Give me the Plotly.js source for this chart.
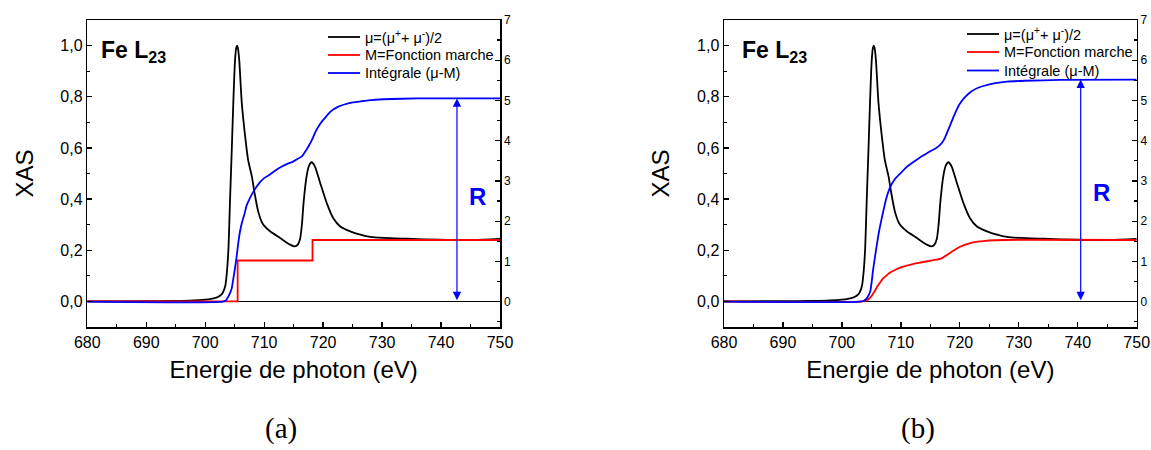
<!DOCTYPE html>
<html>
<head>
<meta charset="utf-8">
<script src="https://cdn.plot.ly/plotly-3.0.1.min.js"></script>
<style>html,body{margin:0;padding:0;background:#fff;}#chart{width:1151px;height:450px;}</style>
</head>
<body>
<div id="chart"></div>
<script>
// ---- data ----
// mu = (mu+ + mu-)/2, same spectrum in both panels
var muE = [680, 690, 695, 698, 700, 701, 702, 702.5, 703, 703.4, 703.7, 703.95, 704.2, 704.5, 704.77, 705.05, 705.25, 705.4, 705.55, 705.78, 706.19, 706.75, 707.3, 707.9, 708.4, 709, 709.6, 710.1, 711, 712.7, 714.4, 715.2, 715.7, 716.1, 716.4, 716.7, 717.2, 717.6, 718.06, 718.6, 719.5, 720.6, 721.7, 722.9, 724.6, 726.3, 728, 730.2, 734.2, 739.8, 745.5, 750];
var muXAS = [0, 0.001, 0.002, 0.004, 0.007, 0.01, 0.016, 0.022, 0.035, 0.06, 0.12, 0.21, 0.39, 0.59, 0.78, 0.94, 0.99, 1.0, 0.99, 0.94, 0.78, 0.65, 0.55, 0.49, 0.42, 0.35, 0.31, 0.293, 0.274, 0.248, 0.222, 0.215, 0.222, 0.245, 0.30, 0.39, 0.49, 0.53, 0.544, 0.528, 0.463, 0.385, 0.326, 0.293, 0.274, 0.261, 0.252, 0.248, 0.245, 0.241, 0.240, 0.244];

// (a) step function M
var stepE = [680, 705.5, 718.2, 750];
var stepM = [0, 0.16, 0.24, 0.24];
// (a) integral (mu - M), right axis
var intE_a = [680, 703, 703.5, 703.9, 704.2, 704.5, 704.8, 705.05, 705.4, 705.6, 705.85, 706.2, 706.7, 707, 707.5, 708.2, 709.3, 710, 711, 712.1, 713, 714, 714.9, 715.7, 716.4, 717.2, 717.6, 718.1, 718.8, 719.6, 720.5, 721.3, 722.5, 723.6, 725, 726.4, 728, 730.2, 736, 750];
var int_a = [0, 0, 0.03, 0.12, 0.21, 0.33, 0.6, 0.83, 1.2, 1.45, 1.7, 1.95, 2.2, 2.38, 2.55, 2.74, 2.97, 3.07, 3.16, 3.28, 3.36, 3.43, 3.48, 3.55, 3.61, 3.78, 3.88, 4.02, 4.25, 4.44, 4.6, 4.73, 4.84, 4.9, 4.95, 4.98, 5.01, 5.03, 5.05, 5.05];

// (b) smooth step function M
var mE_b = [680, 703.5, 704.5, 705, 705.5, 706, 706.5, 707, 707.5, 708, 709, 710, 711, 712, 713, 714, 715, 716, 716.8, 717.5, 718.5, 719.5, 720.5, 721.5, 722.5, 724, 726, 730, 750];
var m_b = [0, 0, 0.008, 0.02, 0.038, 0.058, 0.075, 0.09, 0.10, 0.11, 0.123, 0.133, 0.14, 0.146, 0.151, 0.155, 0.159, 0.163, 0.167, 0.177, 0.192, 0.207, 0.218, 0.226, 0.232, 0.236, 0.239, 0.241, 0.240];
// (b) integral (mu - M), right axis
var intE_b = [680, 703, 703.8, 704.3, 704.8, 705.3, 705.8, 706.3, 706.8, 707.5, 708.2, 709, 710, 711, 712, 713, 714, 715, 716, 716.7, 717.3, 717.8, 718.4, 719, 720, 721, 722, 723, 724, 726, 728, 731, 737, 750];
var int_b = [0, 0, 0.03, 0.1, 0.25, 0.8, 1.3, 1.75, 2.1, 2.55, 2.85, 3.05, 3.2, 3.35, 3.46, 3.56, 3.65, 3.74, 3.82, 3.9, 4.02, 4.19, 4.4, 4.62, 4.92, 5.1, 5.23, 5.31, 5.36, 5.43, 5.47, 5.49, 5.51, 5.52];

var names = ['\u03bc=(\u03bc<sup>+</sup>+ \u03bc<sup>-</sup>)/2', 'M=Fonction marche', 'Int\u00e9grale (\u03bc-M)'];
var captions = ['(a)', '(b)'];
var xTitle = 'Energie de photon (eV)';
var yTitle = 'XAS';
var panelLabel = '<b>Fe L<sub>23</sub></b>';

// ---- figure ----
var FONT = 'Liberation Sans, Arial, sans-serif';
var BLUE = '#0000ff', RED = '#ff0000', BLACK = '#000000';
var COLORS = [BLACK, RED, BLUE];

function mk(x, y, name, color, xa, ya, shape) {
  return {x: x, y: y, name: name, type: 'scatter', mode: 'lines',
    line: {color: color, width: 1.8, shape: shape || 'spline', smoothing: 0.6},
    xaxis: xa, yaxis: ya, showlegend: false, hoverinfo: 'skip'};
}

var data = [
  mk(muE, muXAS, names[0], BLACK, 'x', 'y'),
  mk(stepE, stepM, names[1], RED, 'x', 'y', 'hv'),
  mk(intE_a, int_a, names[2], BLUE, 'x', 'y2'),
  mk(muE, muXAS, names[0], BLACK, 'x2', 'y3'),
  mk(mE_b, m_b, names[1], RED, 'x2', 'y3'),
  mk(intE_b, int_b, names[2], BLUE, 'x2', 'y4')
];

var W = 1151, H = 450;
var domA = [87.3 / W, 500 / W], domB = [724 / W, 1136.7 / W];
var domY = [(H - 327) / H, (H - 20) / H];

function xAx(dom, yId) {
  return {domain: dom, range: [680, 750], anchor: yId, dtick: 10, tick0: 680,
    ticks: 'inside', ticklen: 5, tickwidth: 1.3, tickcolor: BLACK,
    minor: {dtick: 5, ticks: 'inside', ticklen: 3, tickwidth: 1.3, tickcolor: BLACK},
    showline: true, mirror: true, linewidth: 1.5, linecolor: BLACK,
    showgrid: false, zeroline: false,
    tickfont: {family: FONT, size: 16, color: BLACK},
    title: {text: xTitle, font: {family: FONT, size: 24, color: BLACK}, standoff: 11}};
}
function yAx(xId) {
  return {domain: domY, range: [-0.1, 1.1], anchor: xId, dtick: 0.2, tick0: 0, tickformat: '.1f',
    ticks: 'inside', ticklen: 5, tickwidth: 1.3, tickcolor: BLACK,
    minor: {dtick: 0.1, ticks: 'inside', ticklen: 3, tickwidth: 1.3, tickcolor: BLACK},
    showline: true, linewidth: 1.5, linecolor: BLACK,
    showgrid: false, zeroline: true, zerolinecolor: BLACK, zerolinewidth: 1.5,
    tickfont: {family: FONT, size: 16, color: BLACK},
    title: {text: yTitle, font: {family: FONT, size: 24, color: BLACK}, standoff: 20}};
}
function y2Ax(xId, over) {
  return {domain: domY, range: [-0.63, 7], anchor: xId, overlaying: over, side: 'right',
    dtick: 1, tick0: 0, ticks: 'inside', ticklen: 5, tickwidth: 1.3, tickcolor: BLACK,
    minor: {dtick: 0.5, ticks: 'inside', ticklen: 3, tickwidth: 1.3, tickcolor: BLACK},
    showline: true, linewidth: 1.5, linecolor: BLACK,
    showgrid: false, zeroline: false,
    tickfont: {family: FONT, size: 12, color: BLACK}};
}

var Ra = Math.max.apply(null, int_a), Rb = Math.max.apply(null, int_b);

function arrow(xa, ya, xv, top) {
  return {xref: xa, yref: ya, axref: xa, ayref: ya, x: xv, y: top, ax: xv, ay: 0,
    text: '', showarrow: true, arrowside: 'end+start', arrowhead: 2, arrowsize: 1.4,
    arrowwidth: 1.2, arrowcolor: BLUE, standoff: 0, startstandoff: 0};
}
function txt(xa, ya, xv, yv, t, size, color, xanchor) {
  return {xref: xa, yref: ya, x: xv, y: yv, text: t, showarrow: false,
    xanchor: xanchor || 'center', yanchor: 'middle',
    font: {family: FONT, size: size, color: color}};
}

// hand-placed legend boxes (line sample + label), one per panel
var shapes = [], annotations = [];
function legendBox(x0, rows) {
  for (var i = 0; i < names.length; i++) {
    shapes.push({type: 'line', xref: 'paper', yref: 'paper',
      x0: x0 / W, x1: (x0 + 32) / W, y0: 1 - rows[i] / H, y1: 1 - rows[i] / H,
      line: {color: COLORS[i], width: 1.8}});
    annotations.push({xref: 'paper', yref: 'paper', x: (x0 + 35) / W, y: 1 - rows[i] / H,
      xanchor: 'left', yanchor: 'middle', text: names[i], showarrow: false,
      font: {family: FONT, size: 14.5, color: BLACK}});
  }
}
legendBox(328, [37, 55, 73]);
legendBox(967, [34, 52, 70.5]);

annotations.push(
  arrow('x', 'y2', 742.7, Ra),
  arrow('x2', 'y4', 740.5, Rb),
  txt('x', 'y', 746.1, 0.41, '<b>R</b>', 24, BLUE),
  txt('x2', 'y3', 744.1, 0.425, '<b>R</b>', 24, BLUE),
  txt('x', 'y', 682.0, 0.978, panelLabel, 23, BLACK, 'left'),
  txt('x2', 'y3', 682.7, 0.978, panelLabel, 23, BLACK, 'left'),
  {xref: 'paper', yref: 'paper', x: 281 / W, y: 1 - 428 / H, xanchor: 'center', yanchor: 'middle',
    text: captions[0], showarrow: false, font: {family: 'Liberation Serif, serif', size: 29, color: BLACK}},
  {xref: 'paper', yref: 'paper', x: 918 / W, y: 1 - 428 / H, xanchor: 'center', yanchor: 'middle',
    text: captions[1], showarrow: false, font: {family: 'Liberation Serif, serif', size: 29, color: BLACK}}
);

var layout = {
  width: W, height: H, margin: {l: 0, r: 0, t: 0, b: 0},
  paper_bgcolor: '#fff', plot_bgcolor: '#fff', separators: ',.',
  showlegend: false,
  xaxis: xAx(domA, 'y'), yaxis: yAx('x'), yaxis2: y2Ax('x', 'y'),
  xaxis2: xAx(domB, 'y3'), yaxis3: yAx('x2'), yaxis4: y2Ax('x2', 'y3'),
  shapes: shapes,
  annotations: annotations
};

Plotly.newPlot('chart', data, layout, {staticPlot: true, displayModeBar: false});
</script>
</body>
</html>
